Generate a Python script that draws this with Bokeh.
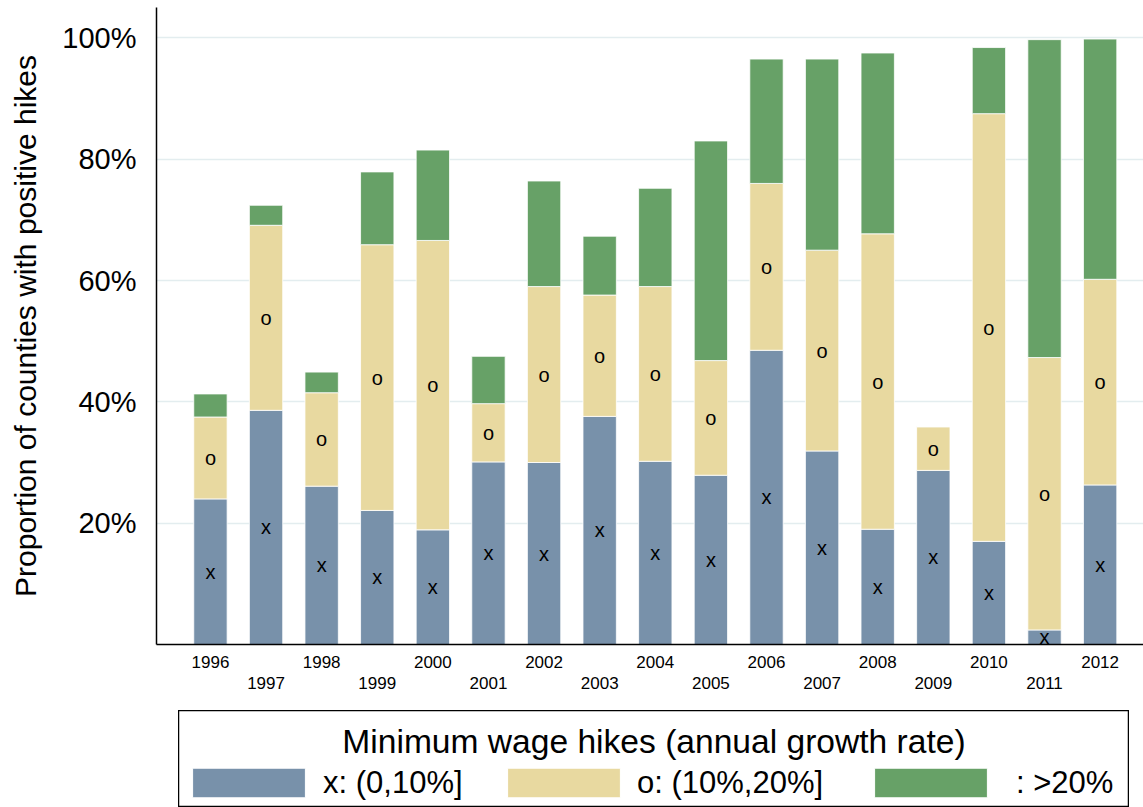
from bokeh.plotting import figure
from bokeh.models import (ColumnDataSource, Range1d, LinearAxis, FixedTicker,
                          Legend, LegendItem, Spacer, Label)
from bokeh.layouts import column, row
from bokeh.core.properties import value
from bokeh.embed import file_html
from bokeh.resources import INLINE

# ---------------- data ----------------
years = [1996, 1997, 1998, 1999, 2000, 2001, 2002, 2003, 2004,
         2005, 2006, 2007, 2008, 2009, 2010, 2011, 2012]
share_low = [24.0, 38.6, 26.1, 22.1, 18.9, 30.1, 30.0, 37.6, 30.2,
             27.9, 48.5, 31.9, 19.0, 28.7, 17.0, 2.4, 26.3]
share_mid = [13.5, 30.5, 15.4, 43.8, 47.7, 9.6, 29.0, 20.0, 28.8,
             18.9, 27.5, 33.1, 48.7, 7.2, 70.5, 44.9, 33.9]
share_high = [3.8, 3.3, 3.4, 12.0, 14.9, 7.8, 17.4, 9.7, 16.2,
              36.2, 20.5, 31.5, 29.8, 0.0, 10.9, 52.4, 39.6]
y_ticks = [20, 40, 60, 80, 100]
y_tick_labels = ["20%", "40%", "60%", "80%", "100%"]
y_title = "Proportion of counties with positive hikes"
legend_title = "Minimum wage hikes (annual growth rate)"
legend_labels = ["x: (0,10%]", "o: (10%,20%]", ": >20%"]
segment_marks = ["x", "o"]
colors = ["#7891aa", "#e8d9a0", "#67a167"]

FONT = "Liberation Sans"

src = ColumnDataSource(dict(year=years, low=share_low, mid=share_mid, high=share_high))

p = figure(width=1143, height=710,
           x_range=Range1d(1995.03, 2012.78), y_range=Range1d(0, 105),
           x_axis_type=None, output_backend="svg", toolbar_location=None,
           min_border_left=156, min_border_right=0, min_border_top=7,
           min_border_bottom=66)
p.outline_line_color = None
p.background_fill_color = "white"

p.vbar_stack(["low", "mid", "high"], x="year", width=0.6, source=src,
             fill_color=colors, line_color="white", line_width=1, line_alpha=0.8)

# segment markers
mark_x_y = [l / 2 for l in share_low]
mark_o_y = [l + m / 2 for l, m in zip(share_low, share_mid)]
p.text(x=years, y=mark_x_y, text=[segment_marks[0]] * len(years),
       text_font=value(FONT), text_font_size="20px", text_align="center",
       text_baseline="middle", text_color="black")
p.text(x=years, y=mark_o_y, text=[segment_marks[1]] * len(years),
       text_font=value(FONT), text_font_size="20px", text_align="center",
       text_baseline="middle", text_color="black")

# y axis
yax = p.yaxis[0]
yax.ticker = FixedTicker(ticks=y_ticks)
yax.major_label_overrides = {t: l for t, l in zip(y_ticks, y_tick_labels)}
yax.axis_line_color = "black"
yax.axis_line_width = 1.5
yax.major_tick_out = 0
yax.major_tick_in = 0
yax.minor_tick_out = 0
yax.minor_tick_in = 0
yax.major_label_text_font = FONT
yax.major_label_text_font_size = "29px"
yax.major_label_text_color = "black"
yax.major_label_standoff = 20
yax.axis_label = y_title
yax.axis_label_text_font = FONT
yax.axis_label_text_font_size = "30px"
yax.axis_label_text_font_style = "normal"
yax.axis_label_text_color = "black"
yax.axis_label_standoff = 17

p.ygrid.ticker = FixedTicker(ticks=y_ticks)
p.ygrid.grid_line_color = "#e3edef"
p.ygrid.grid_line_width = 1.5

# staggered x axes
def make_xaxis(ticks, standoff, line):
    ax = LinearAxis(ticker=FixedTicker(ticks=ticks),
                    major_label_overrides={t: str(t) for t in ticks})
    ax.axis_line_color = "black" if line else None
    ax.axis_line_width = 1.5
    ax.major_tick_out = 0
    ax.major_tick_in = 0
    ax.minor_tick_out = 0
    ax.minor_tick_in = 0
    ax.major_label_text_font = FONT
    ax.major_label_text_font_size = "17px"
    ax.major_label_text_color = "black"
    ax.major_label_standoff = standoff
    return ax

p.add_layout(make_xaxis(years[0::2], 11, True), "below")
p.add_layout(make_xaxis(years[1::2], 6, False), "below")

# ---------------- legend panel ----------------
p2 = figure(width=951, height=97, x_range=Range1d(0, 1), y_range=Range1d(0, 1),
            x_axis_type=None, y_axis_type=None, output_backend="svg",
            toolbar_location=None, min_border=0)
p2.outline_line_color = "black"
p2.outline_line_width = 1.5

p2.add_layout(Label(x=0.5, y=0.68, text=legend_title, text_font=FONT,
                    text_font_size="33.6px", text_align="center",
                    text_baseline="middle", text_color="black"))

leg_x = [0, 315, 682]
leg_standoff = [4, 3, 15]
for lbl, c, lx, so in zip(legend_labels, colors, leg_x, leg_standoff):
    r = p2.vbar(x=[-5], top=[-5], bottom=[-6], width=0.5, fill_color=c,
                line_color="white", line_width=1)
    leg = Legend(items=[LegendItem(label=lbl, renderers=[r])],
                 orientation="horizontal", location=(lx, 6),
                 glyph_width=141, glyph_height=37, label_standoff=so, spacing=0,
                 padding=0, margin=0, border_line_color=None, background_fill_alpha=0,
                 label_text_font=FONT, label_text_font_size="31px",
                 label_text_color="black", label_height=30)
    p2.add_layout(leg, "center")

layout = column(p, row(Spacer(width=178, height=97), p2))

with open("out.html", "w") as f:
    f.write(file_html(layout, INLINE))
